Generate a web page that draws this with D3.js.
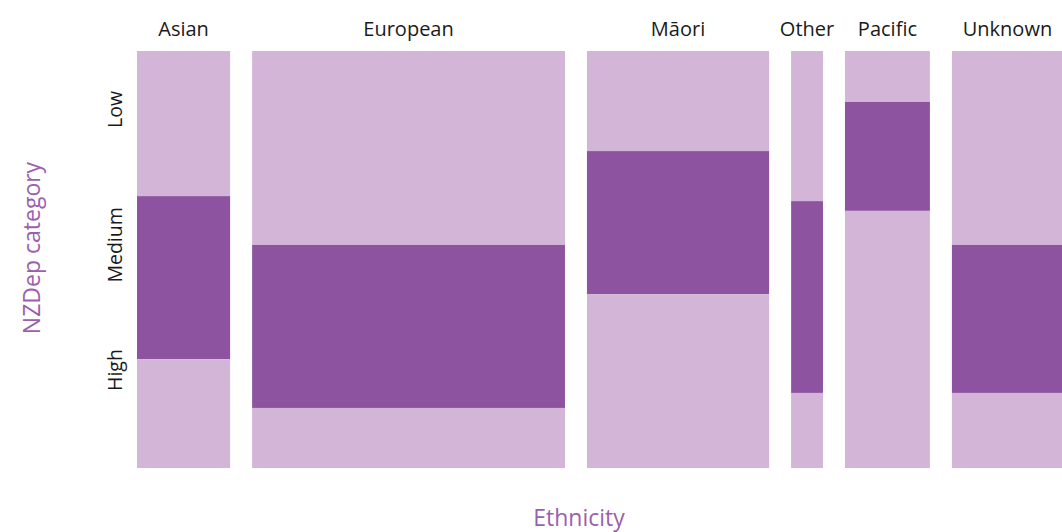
<!DOCTYPE html>
<html>
<head>
<meta charset="utf-8">
<script src="https://d3js.org/d3.v7.min.js"></script>
<style>
  body { margin: 0; background: #fff; }
  svg { display: block; font-family: "Open Sans", "Noto Sans", sans-serif; }
</style>
</head>
<body>
<div id="chart"></div>
<script>
// ethnicity groups, column width = share of total (%)
var ethnicities = ["Asian", "European", "Māori", "Other", "Pacific", "Unknown"];
var ethnicityShare = [11.4, 38.3, 22.3, 3.9, 10.4, 13.6];

// NZDep category shares within each ethnicity (%), top to bottom
var levels = ["Low", "Medium", "High"];
var lowShare    = [34.8, 46.5, 24.0, 36.0, 12.2, 46.5];
var mediumShare = [39.1, 39.1, 34.3, 46.0, 26.1, 35.5];
var highShare   = [26.1, 14.4, 41.7, 18.0, 61.6, 18.0];

// where the level labels sit on the y axis (0 = top, 1 = bottom)
var levelTickPos = [0.14, 0.465, 0.765];

var width = 1062, height = 532;
var margin = { top: 51, left: 137, bottom: 64 };
var gap = 22;
var plotRight = 1063;

var svg = d3.select("#chart").append("svg")
    .attr("width", width)
    .attr("height", height);

var total = d3.sum(ethnicityShare);
var x = d3.scaleLinear()
    .domain([0, total])
    .range([margin.left, plotRight - gap * (ethnicities.length - 1)]);
var y = d3.scaleLinear()
    .domain([0, 1])
    .range([margin.top, height - margin.bottom]);

var color = d3.scaleOrdinal()
    .domain(levels)
    .range(["#d3b5d7", "#8e53a0", "#d3b5d7"]);

// build the tiles
var cols = [];
var cum = 0;
ethnicities.forEach(function (e, i) {
    var x0 = x(cum) + i * gap;
    var x1 = x(cum + ethnicityShare[i]) + i * gap;
    cum += ethnicityShare[i];
    var parts = [lowShare[i], mediumShare[i], highShare[i]];
    var s = d3.sum(parts);
    var c = 0;
    var tiles = parts.map(function (p, j) {
        var t = { level: levels[j], y0: c / s, y1: (c + p) / s };
        c += p;
        return t;
    });
    cols.push({ name: e, x0: x0, x1: x1, tiles: tiles });
});

var col = svg.append("g").selectAll("g")
    .data(cols)
    .enter().append("g");

col.selectAll("rect")
    .data(function (d) { return d.tiles.map(function (t) { return { x0: d.x0, x1: d.x1, t: t }; }); })
    .enter().append("rect")
    .attr("x", function (d) { return d.x0; })
    .attr("width", function (d) { return d.x1 - d.x0; })
    .attr("y", function (d) { return y(d.t.y0); })
    .attr("height", function (d) { return y(d.t.y1) - y(d.t.y0); })
    .attr("fill", function (d) { return color(d.t.level); });

// column labels
col.append("text")
    .attr("x", function (d) { return (d.x0 + d.x1) / 2; })
    .attr("y", 36)
    .attr("text-anchor", "middle")
    .style("font-size", "20px")
    .style("fill", "#1a1a1a")
    .text(function (d) { return d.name; });

// level labels
svg.append("g").selectAll("text")
    .data(levels)
    .enter().append("text")
    .attr("transform", function (d, i) { return "translate(122," + y(levelTickPos[i]) + ") rotate(-90)"; })
    .attr("text-anchor", "middle")
    .style("font-size", "19.5px")
    .style("fill", "#1a1a1a")
    .text(function (d) { return d; });

// axis titles
svg.append("text")
    .attr("transform", "translate(40,248) rotate(-90)")
    .attr("text-anchor", "middle")
    .style("font-size", "23px")
    .style("fill", "#9b5fae")
    .text("NZDep category");

svg.append("text")
    .attr("x", 579)
    .attr("y", 526)
    .attr("text-anchor", "middle")
    .style("font-size", "23px")
    .style("fill", "#9b5fae")
    .text("Ethnicity");
</script>
</body>
</html>
